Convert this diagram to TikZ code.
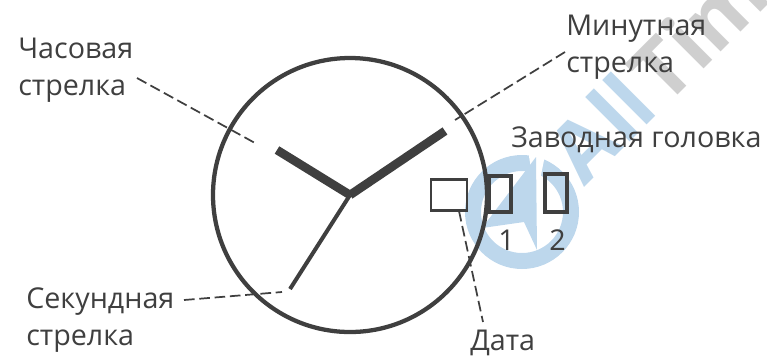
\documentclass[tikz,border=0pt]{standalone}
\usepackage{fontspec}
\setmainfont{Open Sans}
\definecolor{ink}{HTML}{3F3F3F}
\definecolor{wmblue}{HTML}{BDD7EC}
\definecolor{wmgray}{HTML}{CFCFCF}
\tikzset{
  lab/.style={text=ink,font=\fontsize{21.5}{27.5}\selectfont,align=left,inner sep=0pt,anchor=base west},
  leader/.style={draw=ink,line width=1.3pt,dash pattern=on 8pt off 3.5pt},
  hand/.style={draw=ink,line cap=butt},
  sq/.style={draw=ink,rectangle,inner sep=0pt,fill=none},
  wm/.style={font=\bfseries\fontsize{62}{62}\selectfont,rotate=45,inner sep=0pt}
}
\begin{document}
\begin{tikzpicture}[x=0.75pt,y=-0.75pt]
\useasboundingbox (0,0) rectangle (767,355);
\clip (0,0) rectangle (767,355);
% watermark
\node[wm,text=wmblue,anchor=base east] (wma) at (661,111) {All};
\node[wm,text=wmgray,anchor=base west] (wmt) at (665,108) {Tim};
\fill[wmblue,even odd rule] (522,212) circle (57) (522,212) circle (41);
\fill[white] (528,150) -- (546,150) -- (536,200) -- cycle;
\fill[wmblue] (536,157) -- (482,228) -- (524,222) -- (537,250) -- cycle;
% labels
\node[lab] (hl) at (18,95) {Часовая\\стрелка};
\node[lab] (ml) at (566,72) {Минутная\\стрелка};
\node[lab] (zl) at (511,147) {Заводная головка};
\node[lab] (sl) at (26,345) {Секундная\\стрелка};
\node[lab] (dl) at (470,350) {Дата};
\node[lab] (n1) at (498,250) {1};
\node[lab] (n2) at (549,250) {2};
% dial
\coordinate (c) at (350,195);
\node[draw=ink,circle,line width=3.2pt,minimum size=205.5pt,inner sep=0pt] (dial) at (c) {};
% hands
\coordinate (he) at (277,150);
\coordinate (me) at (445,131);
\coordinate (se) at (290,289);
\draw[hand,line width=6.5pt] (c) -- (he);
\draw[hand,line width=6.5pt] (c) -- (me);
\draw[hand,line width=3pt] (c) -- (se);
% boxes
\node[sq,line width=2pt,minimum width=27pt,minimum height=23pt] (date) at (449,195) {};
\node[sq,line width=3pt,minimum width=17pt,minimum height=27.5pt] (b1) at (500,194) {};
\node[sq,line width=3pt,minimum width=17pt,minimum height=28.5pt] (b2) at (556,193) {};
% leaders
\coordinate (h1) at (137,78);
\coordinate (h2) at (255,143);
\coordinate (m1) at (565,52);
\coordinate (m2) at (455,120);
\coordinate (s1) at (184,300);
\coordinate (s2) at (282,292);
\coordinate (d2) at (483,322);
\coordinate (d1) at (459,211);
\draw[leader] (h1) -- (h2);
\draw[leader] (m1) -- (m2);
\draw[leader] (s1) -- (s2);
\draw[leader] (d1) -- (d2);
\end{tikzpicture}
\end{document}
